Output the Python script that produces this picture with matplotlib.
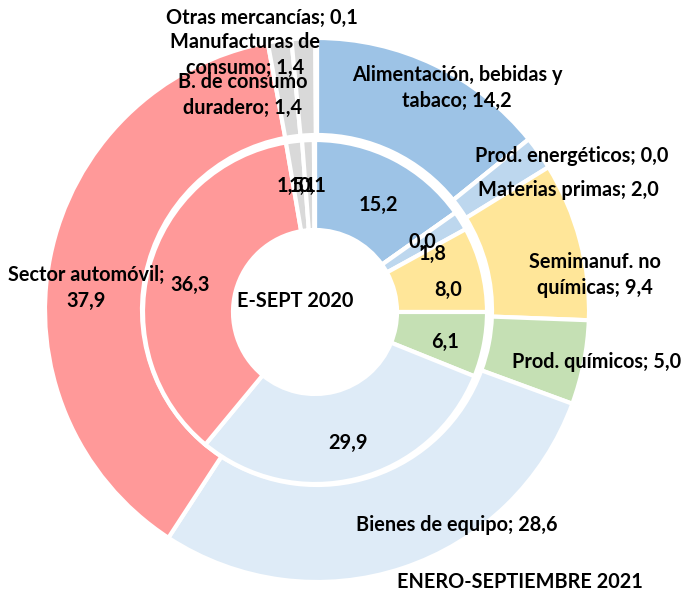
import matplotlib
matplotlib.use("Agg")
import matplotlib.pyplot as plt

# datos (% del total)
categorias = ["Alimentación, bebidas y\ntabaco", "Prod. energéticos", "Materias primas",
              "Semimanuf. no\nquímicas", "Prod. químicos", "Bienes de equipo",
              "Sector automóvil;\n", "B. de consumo\nduradero", "Manufacturas de\nconsumo",
              "Otras mercancías"]
valores_2021 = [14.2, 0.0, 2.0, 9.4, 5.0, 28.6, 37.9, 1.4, 1.4, 0.1]
valores_2020 = [15.2, 0.0, 1.8, 8.0, 6.1, 29.9, 36.3, 1.5, 1.1, 0.1]
colores = ["#9DC3E6", "#BDD7EE", "#BDD7EE", "#FFE699", "#C5E0B4", "#DEEBF7",
           "#FF9999", "#D9D9D9", "#D9D9D9", "#FFD966"]

# posiciones de etiquetas (pixeles)
pos_ext = [(457, 88), (572, 156), (568, 190), (595, 275), (597, 362), (457, 525),
           (86, 288), (243, 95), (245, 55), (262, 18)]
pos_int = [(378, 205), (422, 242), (433, 254), (448, 290), (445, 342), (348, 443),
           (190, 285), (291, 186), (303, 186), (312, 186)]

plt.rcParams['font.family'] = ['Lato', 'DejaVu Sans']
fs = 14.3

fig = plt.figure(figsize=(6.84, 5.96), dpi=100)
ax = fig.add_axes([0, 0, 1, 1])

cx, cy = 317, -310
ax.pie(valores_2021, colors=colores, startangle=90, counterclock=False,
       radius=272, center=(cx, cy), normalize=True,
       wedgeprops=dict(width=97, edgecolor="white", linewidth=3))
ax.pie(valores_2020, colors=colores, startangle=90, counterclock=False,
       radius=172, center=(cx - 2, cy - 2), normalize=True,
       wedgeprops=dict(width=90, edgecolor="white", linewidth=3))

fmt = lambda v: f"{v:.1f}".replace(".", ",")
for cat, v, (x, y) in zip(categorias, valores_2021, pos_ext):
    sep = "" if cat.endswith("\n") else "; "
    ax.text(x, -y, f"{cat}{sep}{fmt(v)}", ha="center", va="center",
            fontsize=fs, fontweight="bold", linespacing=1.4)
for v, (x, y) in zip(valores_2020, pos_int):
    ax.text(x, -y, fmt(v), ha="center", va="center", fontsize=fs, fontweight="bold")

ax.text(295, -301, "E-SEPT 2020", ha="center", va="center", fontsize=fs, fontweight="bold")
ax.text(520, -582, "ENERO-SEPTIEMBRE 2021", ha="center", va="center", fontsize=fs, fontweight="bold")

ax.set_xlim(0, 684)
ax.set_ylim(-596, 0)
ax.set_aspect("equal")
ax.axis("off")
fig.savefig("out.png", dpi=100)
